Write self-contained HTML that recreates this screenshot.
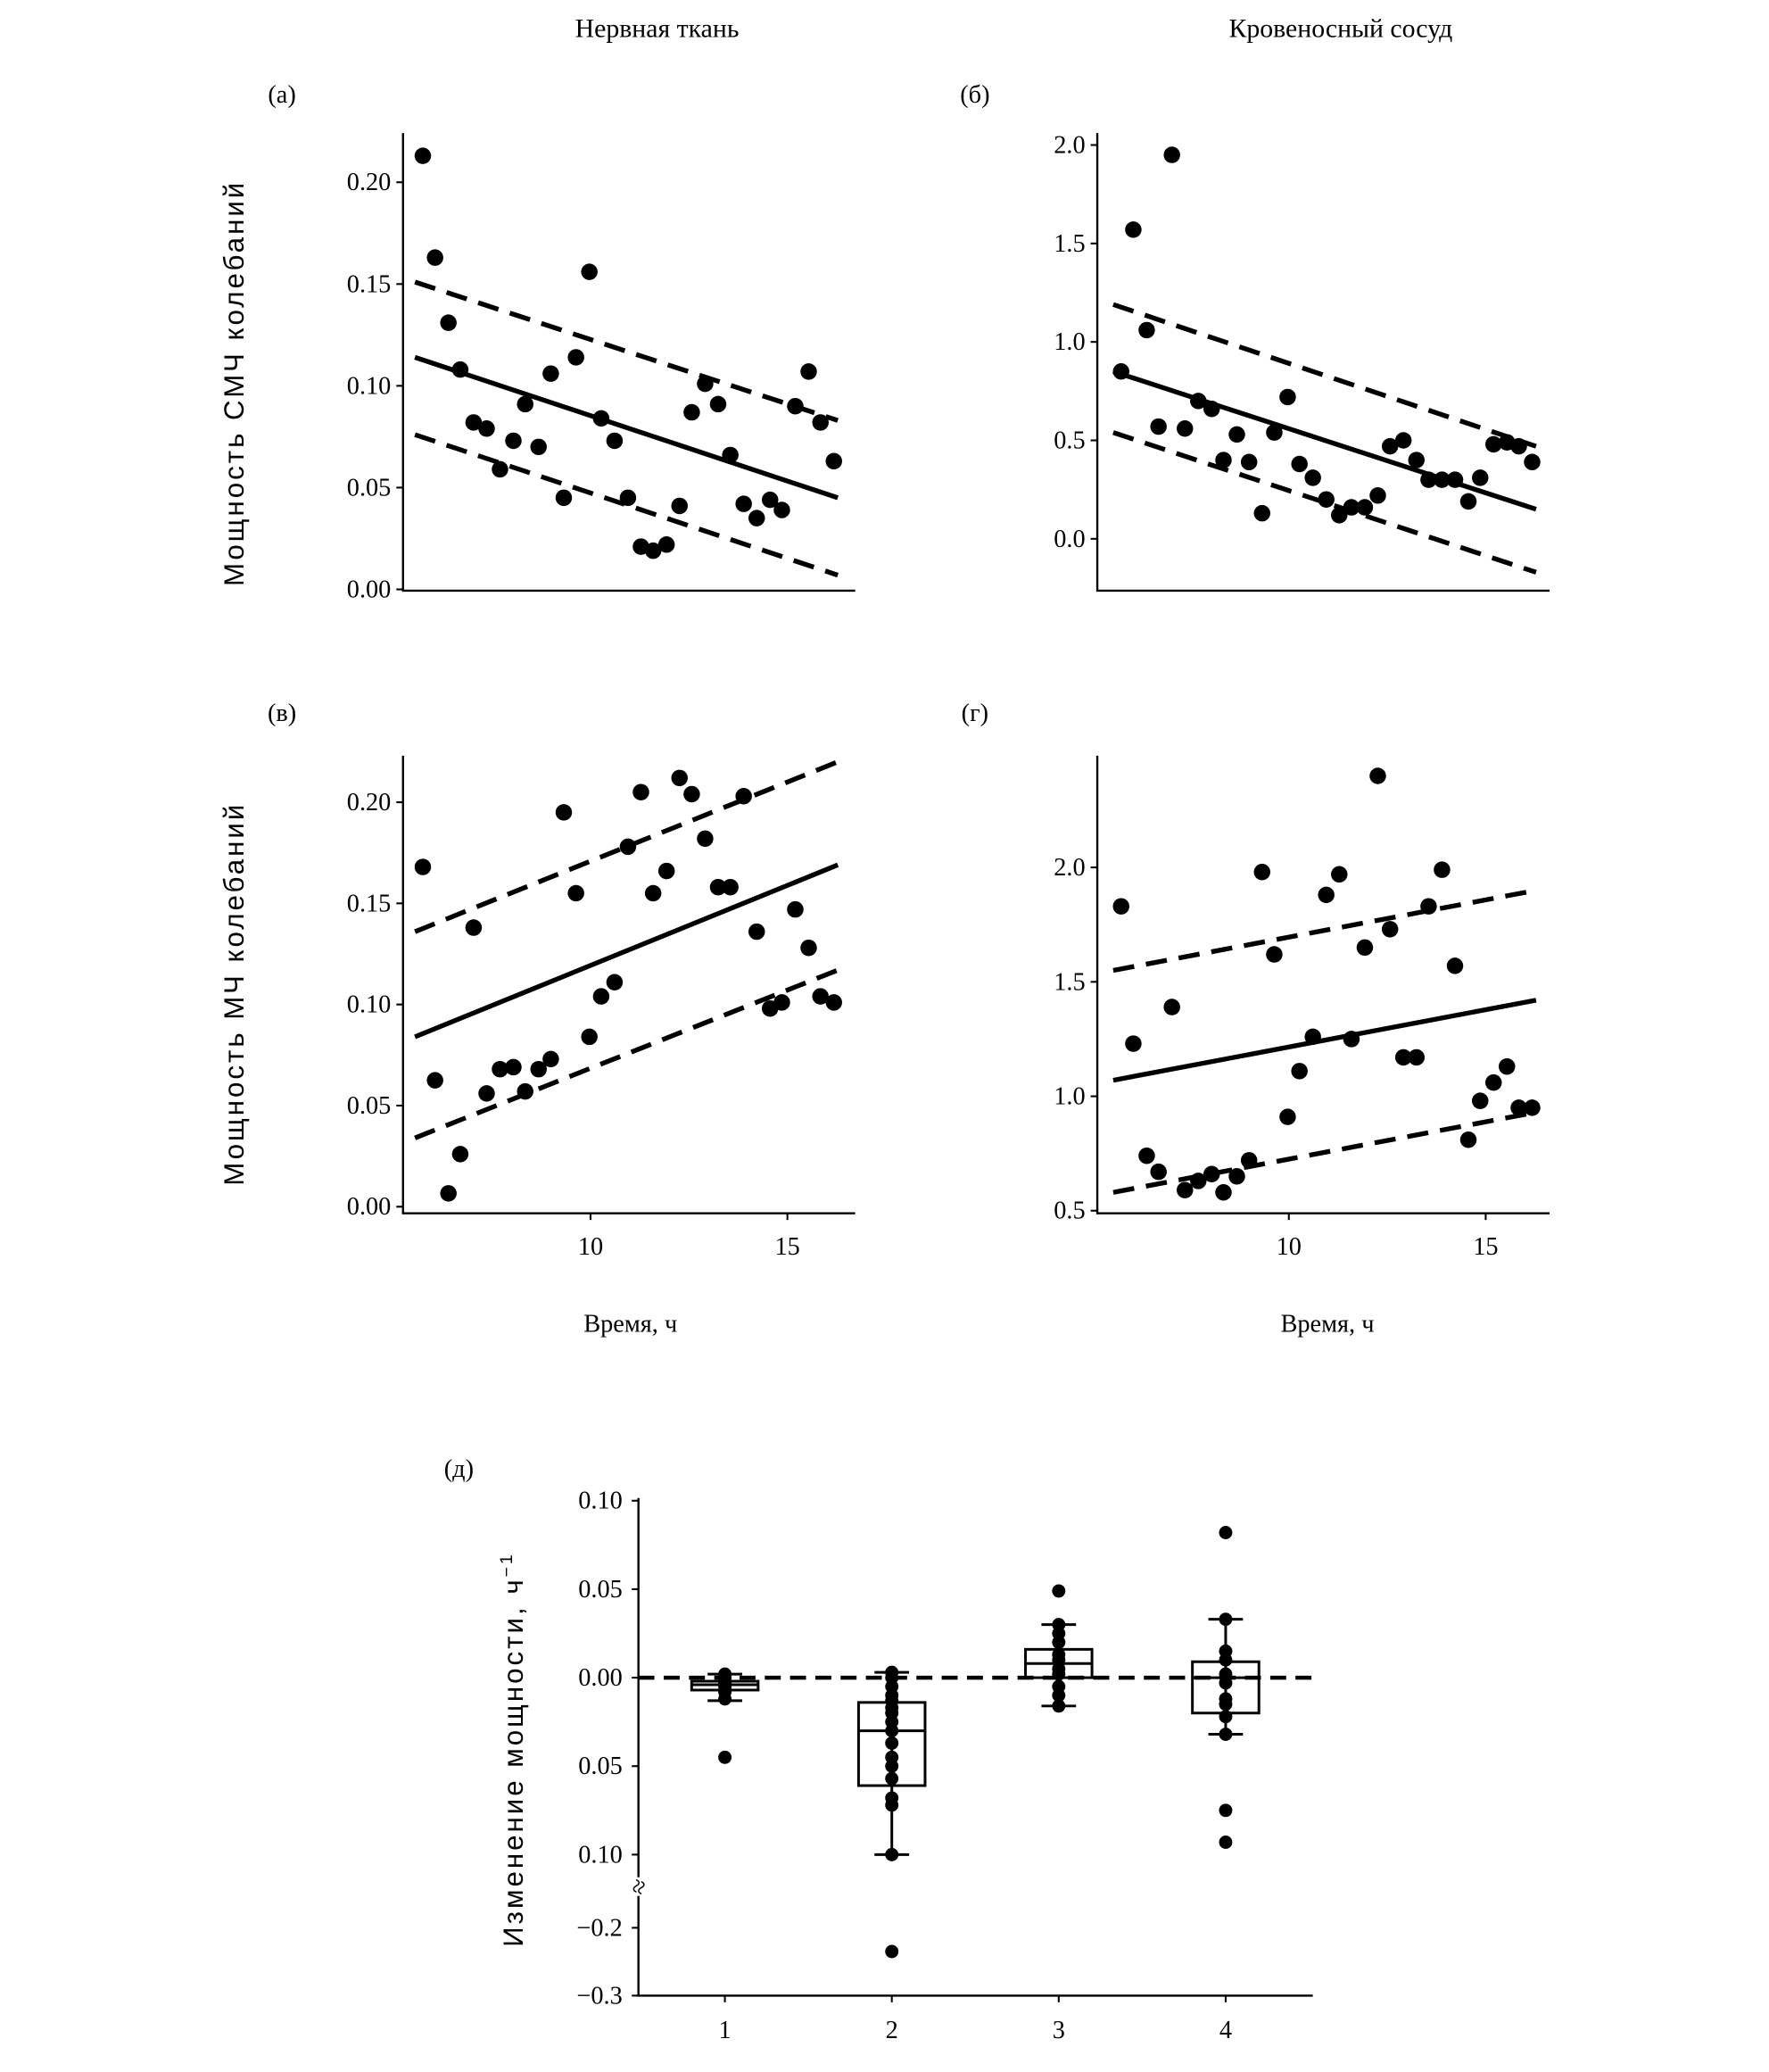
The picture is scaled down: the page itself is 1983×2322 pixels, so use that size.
<!DOCTYPE html>
<html><head><meta charset="utf-8"><style>
html,body{margin:0;padding:0;background:#fff;}
svg{display:block;}
text{font-family:"Liberation Serif","DejaVu Serif",serif;fill:#000;}
</style></head>
<body>
<svg id="fig" width="1983" height="2322" viewBox="0 0 1330 1557.4" preserveAspectRatio="none" xmlns="http://www.w3.org/2000/svg">
<text x="494" y="28" font-size="20" text-anchor="middle">Нервная ткань</text>
<text x="1008" y="28" font-size="20" text-anchor="middle">Кровеносный сосуд</text>
<text x="212" y="77" font-size="19" text-anchor="middle">(а)</text>
<text x="733" y="77" font-size="19" text-anchor="middle">(б)</text>
<text x="212" y="542" font-size="19" text-anchor="middle">(в)</text>
<text x="733" y="542" font-size="19" text-anchor="middle">(г)</text>
<text x="345" y="1110" font-size="19" text-anchor="middle">(д)</text>
<text transform="translate(183,288) rotate(-90)" font-size="21" text-anchor="middle" style="font-family:'Liberation Sans',sans-serif;letter-spacing:2px">Мощность СМЧ колебаний</text>
<text transform="translate(183,747) rotate(-90)" font-size="21" text-anchor="middle" style="font-family:'Liberation Sans',sans-serif;letter-spacing:2px">Мощность МЧ колебаний</text>
<text x="474" y="1001" font-size="19" text-anchor="middle">Время, ч</text>
<text x="998" y="1001" font-size="19" text-anchor="middle">Время, ч</text>
<text transform="translate(393,1315) rotate(-90)" font-size="21" text-anchor="middle" style="font-family:'Liberation Sans',sans-serif;letter-spacing:2px">Изменение мощности, ч<tspan font-size="13" dy="-8">−1</tspan></text>
</svg>
<script>
const times=[5.74,6.05,6.39,6.69,7.03,7.36,7.70,8.04,8.34,8.68,8.99,9.32,9.63,9.97,10.27,10.61,10.95,11.28,11.59,11.93,12.26,12.57,12.91,13.24,13.55,13.89,14.22,14.56,14.86,15.20,15.54,15.84,16.18];
const valuesA=[0.213,0.163,0.131,0.108,0.082,0.079,0.059,0.073,0.091,0.070,0.106,0.045,0.114,0.156,0.084,0.073,0.045,0.021,0.019,0.022,0.041,0.087,0.101,0.091,0.066,0.042,0.035,0.044,0.039,0.090,0.107,0.082,0.063];
const valuesB=[0.85,1.57,1.06,0.57,1.95,0.56,0.70,0.66,0.40,0.53,0.39,0.13,0.54,0.72,0.38,0.31,0.20,0.12,0.16,0.16,0.22,0.47,0.50,0.40,0.30,0.30,0.30,0.19,0.31,0.48,0.49,0.47,0.39];
const valuesV=[0.168,0.0625,0.0066,0.026,0.138,0.056,0.068,0.069,0.057,0.068,0.073,0.195,0.155,0.084,0.104,0.111,0.178,0.205,0.155,0.166,0.212,0.204,0.182,0.158,0.158,0.203,0.136,0.098,0.101,0.147,0.128,0.104,0.101];
const valuesG=[1.83,1.23,0.74,0.67,1.39,0.59,0.63,0.66,0.58,0.65,0.72,1.98,1.62,0.91,1.11,1.26,1.88,1.97,1.25,1.65,2.40,1.73,1.17,1.17,1.83,1.99,1.57,0.81,0.98,1.06,1.13,0.95,0.95];
const fitA=[0.114,0.045], upA=[0.151,0.083], loA=[0.076,0.007];
const fitB=[0.85,0.15], upB=[1.19,0.47], loB=[0.54,-0.17];
const fitV=[0.084,0.169], upV=[0.136,0.220], loV=[0.034,0.117];
const fitG=[1.07,1.42], upG=[1.55,1.90], loG=[0.58,0.93];
const ticksA=[0.00,0.05,0.10,0.15,0.20], ticksB=[0.0,0.5,1.0,1.5,2.0], ticksV=[0.00,0.05,0.10,0.15,0.20], ticksG=[0.5,1.0,1.5,2.0];
const xTicks=[10,15];
const groups=[1,2,3,4];
const boxQ1=[-0.007,-0.061,0.000,-0.020], boxMed=[-0.004,-0.030,0.008,0.000], boxQ3=[-0.002,-0.014,0.016,0.009];
const whiskLo=[-0.013,-0.100,-0.016,-0.032], whiskHi=[0.002,0.003,0.030,0.033];
const pts1=[0.002,0.000,-0.003,-0.005,-0.008,-0.012,-0.045];
const pts2=[0.003,0.000,-0.005,-0.010,-0.013,-0.017,-0.020,-0.025,-0.030,-0.037,-0.045,-0.050,-0.057,-0.068,-0.072,-0.100,-0.235];
const pts3=[0.049,0.030,0.025,0.020,0.013,0.010,0.005,0.002,-0.005,-0.010,-0.016];
const pts4=[0.082,0.033,0.015,0.010,0.002,-0.003,-0.012,-0.015,-0.022,-0.032,-0.075,-0.093];
const eTicksTop=[0.10,0.05,0.00,-0.05,-0.10], eTickLabelsTop=["0.10","0.05","0.00","0.05","0.10"];
const eTicksBot=[-0.2,-0.3], eTickLabelsBot=["−0.2","−0.3"];

const NS="http://www.w3.org/2000/svg";
const svg=document.getElementById('fig');
function mk(tag,attrs,parent){const e=document.createElementNS(NS,tag);for(const k in attrs)e.setAttribute(k,attrs[k]);(parent||svg).appendChild(e);return e;}

function panel(name,x0,x10,yAxisTop,yAxisBot,yOfV,vals,fit,up,lo,ticks,dec,showX){
  const g=mk('g',{});
  
  
  const xs=t=>x10+(t-10)*29.6;
  const x1=x0+340;
  const ax=mk('path',{d:`M${x0},${yAxisTop}V${yAxisBot}H${x1}`,fill:'none',stroke:'#000','stroke-width':1.6},g);
  
  
  ticks.forEach(v=>{
    const y=yOfV(v);
    mk('line',{x1:x0-5,x2:x0,y1:y,y2:y,stroke:'#000','stroke-width':1.4},g);
    const t=mk('text',{x:x0-9,y:y+6,'font-size':19,'text-anchor':'end'},g);
    t.textContent=v.toFixed(dec);
    
    
  });
  if(showX){xTicks.forEach(tv=>{
    const x=xs(tv);
    mk('line',{x1:x,x2:x,y1:yAxisBot,y2:yAxisBot+5,stroke:'#000','stroke-width':1.4},g);
    const t=mk('text',{x:x,y:yAxisBot+31,'font-size':19,'text-anchor':'middle'},g);
    t.textContent=tv;
    
    
  });}
  const tA=times[0]-0.2, tB=times[times.length-1]+0.1;
  [[fit,'fit-line',null],[up,'upper-ci-line','16 9'],[lo,'lower-ci-line','16 9']].forEach(([p,n,d])=>{
    const l=mk('line',{x1:xs(tA),y1:yOfV(p[0]),x2:xs(tB),y2:yOfV(p[1]),stroke:'#000','stroke-width':3.6},g);
    if(d)l.setAttribute('stroke-dasharray',d);
    
    
  });
  vals.forEach((v,i)=>{
    const c=mk('circle',{cx:xs(times[i]),cy:yOfV(v),r:6.2,fill:'#000'},g);
    
    
  });
}
panel('a',303,444,100,444,v=>443-v*1530,valuesA,fitA,upA,loA,ticksA,2,false);
panel('b',825,969,100,444,v=>405-v*148,valuesB,fitB,upB,loB,ticksB,1,false);
panel('v',303,444,568,912,v=>907-v*1520,valuesV,fitV,upV,loV,ticksV,2,true);
panel('g',825,969,568,912,v=>910-(v-0.5)*172,valuesG,fitG,upG,loG,ticksG,1,true);

const ge=mk('g',{});


const ey=v=> v>=-0.11 ? 1261-v*1330 : 1449+(-0.2-v)*510;
const ex=k=>545+(k-1)*125.5;
const eax1=mk('path',{d:'M480,1126V1411M480,1425V1500H987',fill:'none',stroke:'#000','stroke-width':1.6},ge);


const brk=mk('text',{x:480,y:1425,'font-size':20,'text-anchor':'middle'},ge);
brk.textContent='≈';


brk.setAttribute('transform','rotate(-70 480 1418)');
function etick(v,lab){
  const y=ey(v);
  mk('line',{x1:475,x2:480,y1:y,y2:y,stroke:'#000','stroke-width':1.4},ge);
  const t=mk('text',{x:468,y:y+6,'font-size':19,'text-anchor':'end'},ge);
  t.textContent=lab;
  
  
}
eTicksTop.forEach((v,i)=>etick(v,eTickLabelsTop[i]));
eTicksBot.forEach((v,i)=>etick(v,eTickLabelsBot[i]));
groups.forEach(k=>{
  const x=ex(k);
  mk('line',{x1:x,x2:x,y1:1500,y2:1505,stroke:'#000','stroke-width':1.4},ge);
  const t=mk('text',{x:x,y:1532,'font-size':19,'text-anchor':'middle'},ge);
  t.textContent=k;
  
  
});
const zl=mk('line',{x1:480,x2:987,y1:ey(0),y2:ey(0),stroke:'#000','stroke-width':3,'stroke-dasharray':'12 7'},ge);


const allPts=[pts1,pts2,pts3,pts4];
groups.forEach((k,i)=>{
  const x=ex(k);
  const w=mk('line',{x1:x,x2:x,y1:ey(whiskHi[i]),y2:ey(whiskLo[i]),stroke:'#000','stroke-width':2},ge);
  
  
  [whiskHi[i],whiskLo[i]].forEach(v=>{
    const c=mk('line',{x1:x-13,x2:x+13,y1:ey(v),y2:ey(v),stroke:'#000','stroke-width':2},ge);
    
    
  });
  const b=mk('rect',{x:x-25,y:ey(boxQ3[i]),width:50,height:ey(boxQ1[i])-ey(boxQ3[i]),fill:'#fff','fill-opacity':0,stroke:'#000','stroke-width':2},ge);
  
  
  const m=mk('line',{x1:x-25,x2:x+25,y1:ey(boxMed[i]),y2:ey(boxMed[i]),stroke:'#000','stroke-width':2},ge);
  
  
  allPts[i].forEach(v=>{
    const c=mk('circle',{cx:x,cy:ey(v),r:5,fill:'#000'},ge);
    
    
  });
});
</script>
</body></html>
